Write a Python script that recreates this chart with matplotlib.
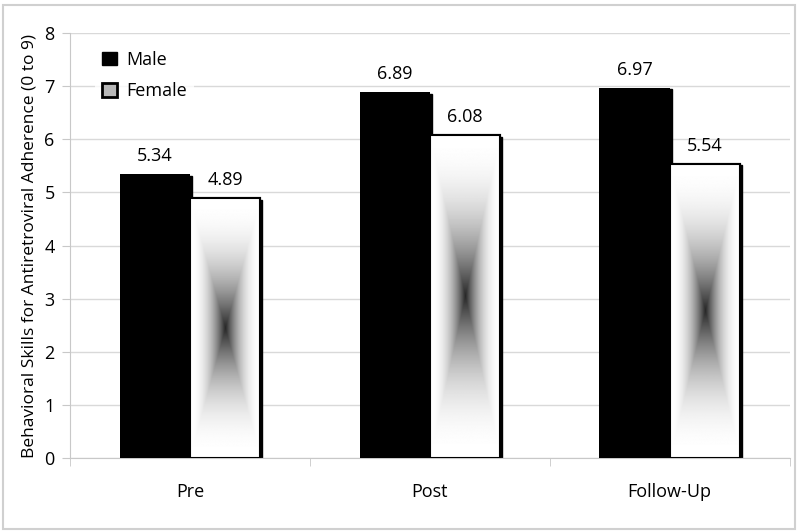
import numpy as np
import matplotlib.pyplot as plt
from matplotlib.patches import Rectangle

plt.rcParams['font.family'] = ['Open Sans', 'DejaVu Sans']

groups = ['Pre', 'Post', 'Follow-Up']
male = [5.34, 6.89, 6.97]
female = [4.89, 6.08, 5.54]

fig = plt.figure(figsize=(8, 5.32), dpi=100)
ax = fig.add_axes([0.0875, 0.139, 0.8995, 0.799])

x = np.arange(len(groups))
w = 0.293

# gradient image for female bars (dark centre, white edges)
gx, gy = np.meshgrid(np.linspace(-1, 1, 200), np.linspace(-1, 1, 400))
dist = np.maximum(np.abs(gx), np.abs(gy))
grad = 1 - 0.85 * (1 - dist) ** 2.2

dx, dy = 0.008, 0.03  # shadow offset in data units

for i in range(len(groups)):
    # male bar
    ax.add_patch(Rectangle((x[i] - w + dx, -dy), w, male[i], color='black', zorder=2))
    ax.bar(x[i] - w / 2, male[i], w, color='black', zorder=3)
    # female bar with shadow + gradient
    ax.add_patch(Rectangle((x[i] + dx, -dy), w, female[i], color='black', zorder=2))
    b = ax.bar(x[i] + w / 2, female[i], w, facecolor='white', edgecolor='black',
               linewidth=1.5, zorder=3)[0]
    im = ax.imshow(grad, cmap='gray', vmin=0, vmax=1, aspect='auto',
                   extent=(x[i], x[i] + w, 0, female[i]), zorder=3.5)
    im.set_clip_path(b)
    ax.add_patch(Rectangle((x[i], 0), w, female[i], fill=False, edgecolor='black',
                           linewidth=1.5, zorder=4))
    ax.text(x[i] - w / 2, male[i] + 0.17, f'{male[i]:.2f}', ha='center', va='bottom', fontsize=13)
    ax.text(x[i] + w / 2, female[i] + 0.17, f'{female[i]:.2f}', ha='center', va='bottom', fontsize=13)

ax.set_xlim(-0.5, 2.5)
ax.set_ylim(0, 8)
ax.set_yticks(range(0, 9))
ax.tick_params(axis='y', labelsize=13, length=6, color='#c8c8c8', pad=5)
ax.set_xticks(x)
ax.set_xticklabels(groups, fontsize=13)
ax.tick_params(axis='x', length=0, pad=18)
ax.set_xticks([-0.5, 0.5, 1.5, 2.5], minor=True)
ax.tick_params(axis='x', which='minor', length=6, color='#c8c8c8')
ax.grid(axis='y', color='#d9d9d9', linewidth=1, zorder=0)
ax.set_axisbelow(True)
for s in ['top', 'right']:
    ax.spines[s].set_visible(False)
for s in ['left', 'bottom']:
    ax.spines[s].set_color('#c8c8c8')
ax.set_ylabel('Behavioral Skills for Antiretroviral Adherence (0 to 9)', fontsize=12.5, labelpad=5)

handles = [Rectangle((0, 0), 1, 1, facecolor='black', edgecolor='black'),
           Rectangle((0, 0), 1, 1, facecolor='#b8b8b8', edgecolor='black', linewidth=2)]
leg = ax.legend(handles, ['Male', 'Female'], loc='upper left', bbox_to_anchor=(0.035, 0.975),
                frameon=True, fontsize=13, handlelength=0.8, handleheight=0.8,
                handletextpad=0.5, labelspacing=0.75, borderaxespad=0)
leg.get_frame().set_edgecolor('none')

fig.add_artist(Rectangle((0.004, 0.006), 0.99, 0.985, transform=fig.transFigure,
                         fill=False, edgecolor='#d0d0d0', linewidth=1.5))

fig.savefig('out.png', dpi=100)
